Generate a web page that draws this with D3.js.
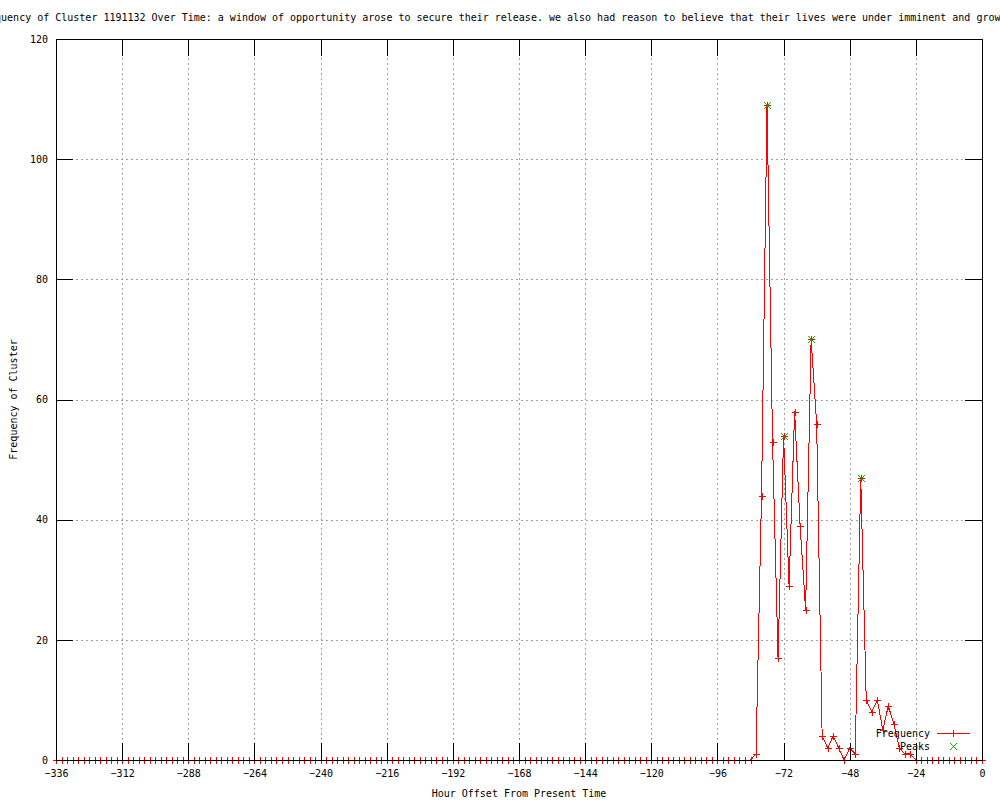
<!DOCTYPE html>
<html>
<head>
<meta charset="utf-8">
<script src="https://cdn.jsdelivr.net/npm/d3@7"></script>
<style>
  body { margin: 0; background: #fff; }
  svg { display: block; }
  text { font-family: "DejaVu Sans Mono", monospace; font-size: 10px; fill: #000; }
</style>
</head>
<body>
<div id="chart"></div>
<script>
// hour offsets (x) and cluster frequency (y), one point every 2 hours
var hours = [
  -336,-334,-332,-330,-328,-326,-324,-322,-320,-318,-316,-314,
  -312,-310,-308,-306,-304,-302,-300,-298,-296,-294,-292,-290,
  -288,-286,-284,-282,-280,-278,-276,-274,-272,-270,-268,-266,
  -264,-262,-260,-258,-256,-254,-252,-250,-248,-246,-244,-242,
  -240,-238,-236,-234,-232,-230,-228,-226,-224,-222,-220,-218,
  -216,-214,-212,-210,-208,-206,-204,-202,-200,-198,-196,-194,
  -192,-190,-188,-186,-184,-182,-180,-178,-176,-174,-172,-170,
  -168,-166,-164,-162,-160,-158,-156,-154,-152,-150,-148,-146,
  -144,-142,-140,-138,-136,-134,-132,-130,-128,-126,-124,-122,
  -120,-118,-116,-114,-112,-110,-108,-106,-104,-102,-100,-98,
  -96,-94,-92,-90,-88,-86,-84,-82,-80,-78,-76,-74,
  -72,-70,-68,-66,-64,-62,-60,-58,-56,-54,-52,-50,
  -48,-46,-44,-42,-40,-38,-36,-34,-32,-30,-28,-26,
  -24,-22,-20,-18,-16,-14,-12,-10,-8,-6,-4,-2,
  0
];
var counts = [
  0,0,0,0,0,0,0,0,0,0,0,0,
  0,0,0,0,0,0,0,0,0,0,0,0,
  0,0,0,0,0,0,0,0,0,0,0,0,
  0,0,0,0,0,0,0,0,0,0,0,0,
  0,0,0,0,0,0,0,0,0,0,0,0,
  0,0,0,0,0,0,0,0,0,0,0,0,
  0,0,0,0,0,0,0,0,0,0,0,0,
  0,0,0,0,0,0,0,0,0,0,0,0,
  0,0,0,0,0,0,0,0,0,0,0,0,
  0,0,0,0,0,0,0,0,0,0,0,0,
  0,0,0,0,0,0,0,1,44,109,53,17,
  54,29,58,39,25,70,56,4,2,4,2,0,
  2,1,47,10,8,10,5,9,6,2,1,1,
  0,0,0,0,0,0,0,0,0,0,0,0,
  0
];
var peakHours = [-78, -72, -62, -44];
var peakCounts = [109, 54, 70, 47];

var xTicks = [-336,-312,-288,-264,-240,-216,-192,-168,-144,-120,-96,-72,-48,-24,0];
var yTicks = [0,20,40,60,80,100,120];

var titleText = "Frequency of Cluster 1191132 Over Time: a window of opportunity arose to secure their release. we also had reason to believe that their lives were under imminent and growing threat.";

const W = 1000, H = 800;
const margin = {top: 39, right: 18, bottom: 40, left: 56};
const width = W - margin.left - margin.right,
      height = H - margin.top - margin.bottom;

const svg = d3.select("#chart").append("svg")
  .attr("width", W).attr("height", H);

const x = d3.scaleLinear().domain([-336, 0]).range([margin.left, margin.left + width]);
const y = d3.scaleLinear().domain([0, 120]).range([margin.top + height, margin.top]);

const data = hours.map((h, i) => ({h: h, c: counts[i]}));
const peaks = peakHours.map((h, i) => ({h: h, c: peakCounts[i]}));

// grid
function styleGrid(g) {
  g.select(".domain").remove();
  g.selectAll("text").remove();
  g.selectAll("line").attr("stroke", "#a0a0a0").attr("stroke-dasharray", "2,3")
    .attr("shape-rendering", "crispEdges");
}
svg.append("g")
  .attr("transform", `translate(0,${margin.top + height})`)
  .call(d3.axisBottom(x).tickValues(xTicks.slice(1, -1)).tickSize(-height))
  .call(styleGrid);
svg.append("g")
  .attr("transform", `translate(${margin.left},0)`)
  .call(d3.axisLeft(y).tickValues(yTicks.slice(1, -1)).tickSize(-width))
  .call(styleGrid);

// line + points
svg.append("path")
  .datum(data)
  .attr("fill", "none")
  .attr("stroke", "#ff0000")
  .attr("stroke-width", 1)
  .attr("shape-rendering", "crispEdges")
  .attr("d", d3.line().x(d => x(d.h)).y(d => y(d.c)));

const plus = "M-3.5,0H3.5M0,-3.5V3.5";
const cross = "M-3.5,-3.5L3.5,3.5M-3.5,3.5L3.5,-3.5";

svg.append("g").selectAll("path")
  .data(data)
  .join("path")
    .attr("transform", d => `translate(${Math.round(x(d.h)) + 0.5},${Math.round(y(d.c)) + 0.5})`)
    .attr("d", plus)
    .attr("stroke", "#ff0000")
    .attr("fill", "none");

svg.append("g").selectAll("path")
  .data(peaks)
  .join("path")
    .attr("transform", d => `translate(${Math.round(x(d.h)) + 0.5},${Math.round(y(d.c)) + 0.5})`)
    .attr("d", cross)
    .attr("stroke", "#00c000")
    .attr("fill", "none");

// ticks, gnuplot style (pointing inwards, on all four sides)
function styleAxis(g) {
  g.select(".domain").remove();
  g.selectAll("line").attr("stroke", "#000").attr("shape-rendering", "crispEdges");
  g.selectAll("text").attr("font-family", "DejaVu Sans Mono, monospace").attr("font-size", 10).attr("fill", "#000");
}
svg.append("g")
  .attr("transform", `translate(0,${margin.top + height})`)
  .call(d3.axisBottom(x).tickValues(xTicks).tickSize(-17).tickPadding(10).tickFormat(d3.format("d")))
  .call(styleAxis);
svg.append("g")
  .attr("transform", `translate(0,${margin.top})`)
  .call(d3.axisTop(x).tickValues(xTicks).tickSize(-17).tickFormat(""))
  .call(styleAxis);
svg.append("g")
  .attr("transform", `translate(${margin.left},0)`)
  .call(d3.axisLeft(y).tickValues(yTicks).tickSize(-17).tickPadding(8).tickFormat(d3.format("d")))
  .call(styleAxis);
svg.append("g")
  .attr("transform", `translate(${margin.left + width},0)`)
  .call(d3.axisRight(y).tickValues(yTicks).tickSize(-17).tickFormat(""))
  .call(styleAxis);

// border
svg.append("rect")
  .attr("x", margin.left + 0.5).attr("y", margin.top + 0.5)
  .attr("width", width).attr("height", height)
  .attr("fill", "none").attr("stroke", "#000")
  .attr("shape-rendering", "crispEdges");

// title & axis labels
svg.append("text")
  .attr("x", -23).attr("y", 21)
  .text(titleText);

svg.append("text")
  .attr("x", margin.left + width / 2).attr("y", 797)
  .attr("text-anchor", "middle")
  .text("Hour Offset From Present Time");

svg.append("text")
  .attr("transform", `translate(17,${margin.top + height / 2}) rotate(-90)`)
  .attr("text-anchor", "middle")
  .text("Frequency of Cluster");

// legend
const legend = svg.append("g");
legend.append("text").attr("x", 930).attr("y", 736.5).attr("text-anchor", "end").text("Frequency");
legend.append("line")
  .attr("x1", 937).attr("x2", 970).attr("y1", 733.5).attr("y2", 733.5)
  .attr("stroke", "#ff0000").attr("shape-rendering", "crispEdges");
legend.append("path").attr("transform", "translate(953.5,733.5)").attr("d", plus)
  .attr("stroke", "#ff0000").attr("fill", "none");
legend.append("text").attr("x", 930).attr("y", 749.5).attr("text-anchor", "end").text("Peaks");
legend.append("path").attr("transform", "translate(953.5,746.5)").attr("d", cross)
  .attr("stroke", "#00c000").attr("fill", "none");
</script>
</body>
</html>
